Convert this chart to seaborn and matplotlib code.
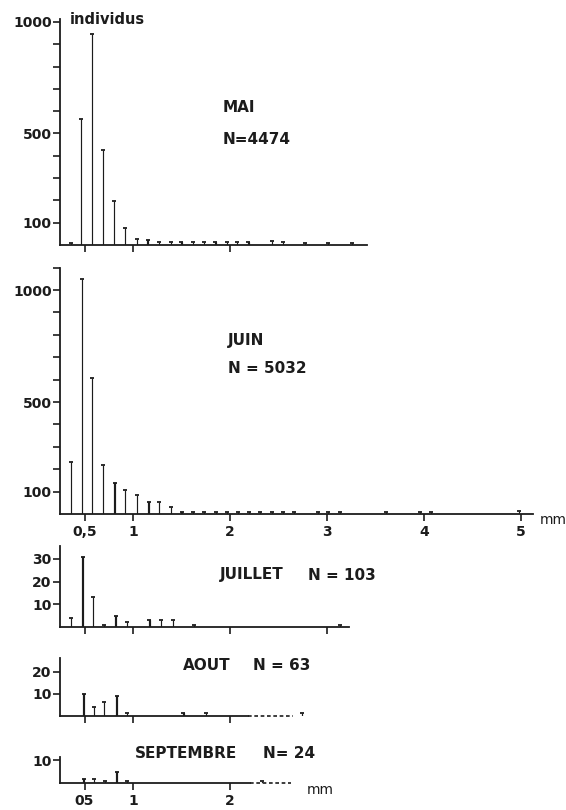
import pandas as pd
import seaborn as sns
from matplotlib import pyplot as plt

# size classes (mm) and number of individuals
mai_mm = [0.36, 0.46, 0.58, 0.69, 0.80, 0.92, 1.04, 1.15, 1.27, 1.39, 1.50,
          1.62, 1.73, 1.85, 1.97, 2.07, 2.19, 2.43, 2.55, 2.77, 3.01, 3.26]
mai_n = [10, 565, 945, 426, 197, 75, 25, 22, 12, 12, 12,
         12, 12, 12, 12, 12, 12, 18, 12, 10, 10, 10]

juin_mm = [0.36, 0.47, 0.58, 0.69, 0.81, 0.92, 1.04, 1.16, 1.27, 1.39, 1.50,
           1.62, 1.73, 1.86, 1.97, 2.08, 2.20, 2.31, 2.43, 2.55, 2.66, 2.91,
           3.01, 3.13, 3.61, 3.96, 4.07, 4.98]
juin_n = [233, 1049, 608, 219, 140, 106, 85, 55, 52, 30, 10,
          10, 10, 10, 10, 10, 10, 10, 10, 10, 10, 10,
          10, 10, 10, 10, 10, 15]

juillet_mm = [0.36, 0.48, 0.59, 0.70, 0.82, 0.94, 1.17, 1.29, 1.41, 1.63, 3.13]
juillet_n = [4, 31, 13, 1, 5, 2, 3, 3, 3, 1, 1]

aout_mm = [0.49, 0.60, 0.70, 0.83, 0.94, 1.52, 1.75, 2.74]
aout_n = [10, 4, 6, 9, 1, 1, 1, 1]

sept_mm = [0.49, 0.60, 0.71, 0.83, 0.94, 2.33]
sept_n = [2, 2, 1, 5, 1, 1]

W, H = 566, 810
X0, PX_MM = 36, 97      # pixel of 0 mm, pixels per mm
LEFT = 60
INK = "#1c1c1c"

sns.set_style("ticks")
plt.rcParams['font.family'] = ['DejaVu Sans']

fig = plt.figure(figsize=(W / 100, H / 100), dpi=100)


def panel(right, base, top):
    ax = fig.add_axes([LEFT / W, 1 - base / H, (right - LEFT) / W, (base - top) / H])
    ax.set_facecolor("none")
    return ax


def stems(ax, xs, ns):
    df = pd.DataFrame({"mm": xs, "n": ns})
    sns.barplot(data=df, x="mm", y="n", native_scale=True, width=0.015,
                color=INK, edgecolor=INK, linewidth=0.85, errorbar=None,
                saturation=1, ax=ax)
    sns.scatterplot(data=df, x="mm", y="n", marker="_", s=12, color=INK,
                    linewidth=1.3, ax=ax, zorder=3)


def finish(ax, right, ymax, yticks, ylabels, xticks, xlabels):
    ax.set_xlim((LEFT - X0) / PX_MM, (right - X0) / PX_MM)
    ax.set_ylim(0, ymax)
    ax.set_yticks(yticks, ylabels)
    ax.set_xticks(xticks, xlabels)
    ax.set_xlabel("")
    ax.set_ylabel("")
    sns.despine(ax=ax)
    for s in ("left", "bottom"):
        ax.spines[s].set_linewidth(1.3)
        ax.spines[s].set_color(INK)
    ax.tick_params(left=True, bottom=True, direction="out", length=5, width=1.2,
                   color=INK, labelcolor=INK, labelsize=10, pad=1)
    ax.tick_params(axis="x", pad=3)
    for t in ax.get_xticklabels() + ax.get_yticklabels():
        t.set_fontweight("bold")


def px(x, y):
    return x / W, 1 - y / H


def label(x, y, s, size=11):
    fig.text(*px(x, y), s, fontsize=size, fontweight="bold", color=INK,
             ha="left", va="center")


hundreds = list(range(100, 1001, 100))
big_lab = ["100" if t == 100 else "500" if t == 500 else "1000" if t == 1000 else ""
           for t in hundreds]

# MAI
ax1 = panel(367, 245, 19.3)
stems(ax1, mai_mm, mai_n)
finish(ax1, 367, 1012, hundreds, big_lab, [0.5, 1, 2], ["", "", ""])

# JUIN
ax2 = panel(533, 514, 267.6)
stems(ax2, juin_mm, juin_n)
finish(ax2, 533, 1100, hundreds + [1100], big_lab + [""],
       [0.5, 1, 2, 3, 4, 5], ["0,5", "1", "2", "3", "4", "5"])

# JUILLET
ax3 = panel(349, 627, 546.4)
stems(ax3, juillet_mm, juillet_n)
finish(ax3, 349, 35.5, [10, 20, 30], ["10", "20", "30"], [0.5, 1, 2, 3], ["", "", "", ""])

# AOUT
ax4 = panel(320, 715.5, 658.3)
stems(ax4, aout_mm, aout_n)
finish(ax4, 320, 26, [10, 20], ["10", "20"], [0.5, 1, 2], ["", "", ""])
ax4.spines["bottom"].set_bounds((LEFT - X0) / PX_MM, 2.19)
ax4.plot([2.19, 2.65], [0, 0], ls=(0, (2.2, 1.6)), lw=1.2, color=INK, clip_on=False)

# SEPTEMBRE
ax5 = panel(300, 783.3, 757.3)
stems(ax5, sept_mm, sept_n)
finish(ax5, 300, 11.2, [10], ["10"], [0.5, 1, 2], ["05", "1", "2"])
ax5.spines["bottom"].set_bounds((LEFT - X0) / PX_MM, 2.21)
ax5.plot([2.21, 2.63], [0, 0], ls=(0, (2.2, 1.6)), lw=1.2, color=INK, clip_on=False)

# annotations
label(70, 20, "individus", 10.5)
label(223, 107, "MAI")
label(223, 139, "N=4474")
label(228, 341, "JUIN")
label(228, 369, "N = 5032")
label(220, 575, "JUILLET")
label(308, 575, "N = 103")
label(183, 666, "AOUT")
label(253, 666, "N = 63")
label(135, 754, "SEPTEMBRE")
label(263, 754, "N= 24")
fig.text(*px(540, 520), "mm", fontsize=10, color=INK, va="center")
fig.text(*px(307, 790), "mm", fontsize=10, color=INK, va="center")

fig.savefig("out.png", dpi=100, facecolor="white")
